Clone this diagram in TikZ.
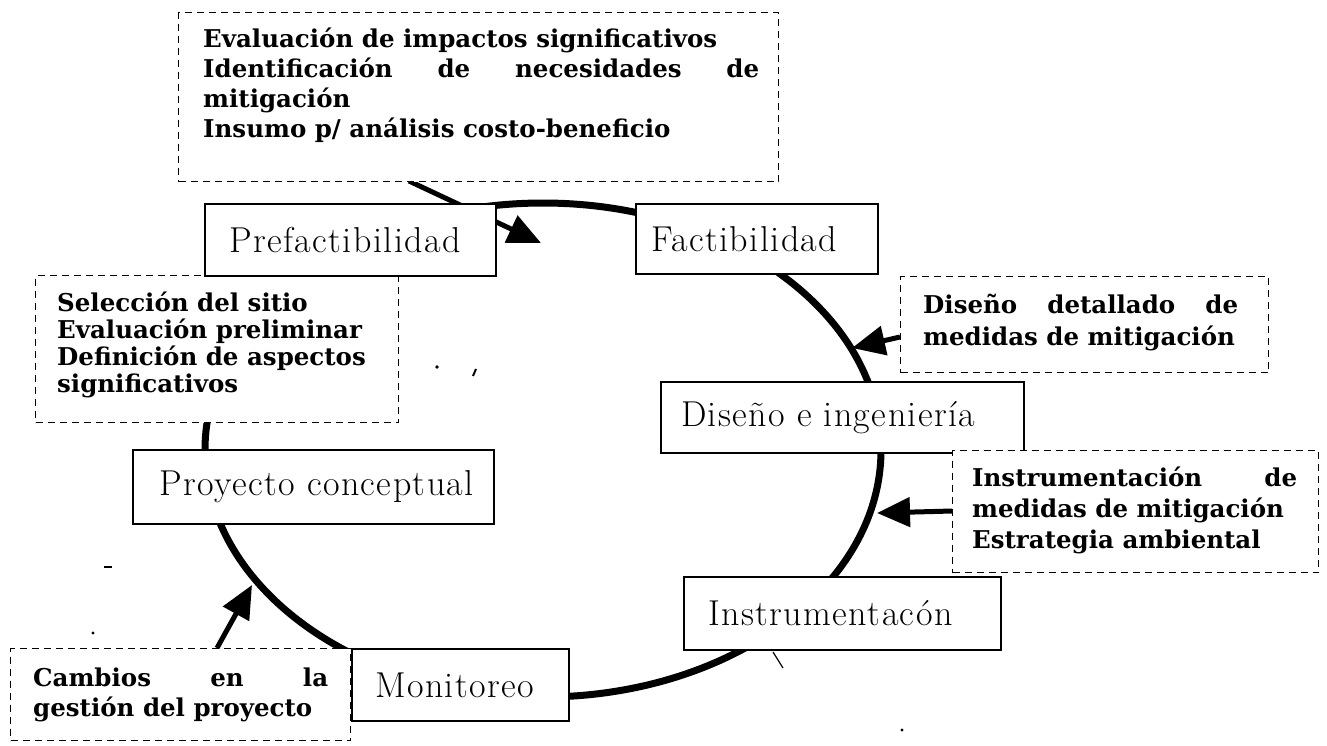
\documentclass[tikz,border=0pt]{standalone}
\usepackage{fontspec}
\newfontfamily\dejaserif{DejaVu Serif}
\newfontfamily\lightserif{Latin Modern Roman}[LetterSpace=4]
\usetikzlibrary{arrows.meta}
\tikzset{
  solidbox/.style={draw=black, line width=2pt, fill=white, inner ysep=0pt, anchor=north west,
    align=left, font=\lightserif\fontsize{36}{42}\selectfont},
  dashbox/.style={draw=black, line width=1.3pt, dash pattern=on 7pt off 5pt, fill=white,
    inner sep=0pt, anchor=north west},
  btxt/.style={font=\dejaserif\bfseries\fontsize{24.5}{#1}\selectfont, inner sep=0pt, anchor=base west},
  ring/.style={line width=7pt},
  arr/.style={line width=5pt, -{Triangle[length=33pt,width=29pt]}},
  speck/.style={fill=black}
}
\begin{document}
\begin{tikzpicture}[x=1pt,y=-1pt]
\useasboundingbox (0,0) rectangle (1327,745);
% cycle
\draw[ring] (543,450) ellipse [x radius=338pt, y radius=247pt];
% arrow tips on the cycle and tails on boxes
\coordinate (a1s) at (409,181);  \coordinate (a1e) at (541,243);
\coordinate (a2s) at (900,337);  \coordinate (a2e) at (852,348);
\coordinate (a3s) at (952,511);  \coordinate (a3e) at (877,513);
\coordinate (a4s) at (217,648);  \coordinate (a4e) at (252,585);
\draw[arr] (a1s) -- (a1e);
\draw[arr] (a2s) -- (a2e);
\draw[arr] (a3s) -- (a3e);
\draw[arr] (a4s) -- (a4e);
% small marks
\coordinate (m1s) at (773,652); \coordinate (m1e) at (783,668);
\draw[line width=1.2pt] (m1s) -- (m1e);
\fill[speck] (437,367) circle[radius=1.8pt];
\draw[line width=2pt] (476,369) -- (473,376);
\draw[line width=1.5pt] (104,567) -- (112,567);
\fill[speck] (93,633) circle[radius=1.6pt];
\fill[speck] (902,730) circle[radius=1.6pt];
% dashed boxes
\node[dashbox, minimum width=600pt, minimum height=169pt] (T) at (178,12) {};
\node[dashbox, minimum width=363pt, minimum height=147pt] (S) at (35,275) {};
\node[dashbox, minimum width=368pt, minimum height=96pt] (DD) at (900,276) {};
\node[dashbox, minimum width=340pt, minimum height=92pt] (C) at (10,648) {};
% solid boxes
\node[solidbox, minimum height=72pt, inner xsep=24pt, text width=243pt] (P) at (204,203) {\mbox{Prefactibilidad}};
\node[solidbox, minimum height=70pt, inner xsep=15pt, text width=212pt] (F) at (635,203) {\mbox{Factibilidad}};
\node[solidbox, minimum height=71pt, inner xsep=20pt, text width=323pt] (D) at (660,381) {\mbox{Diseño e ingeniería}};
\node[dashbox, minimum width=366pt, minimum height=122pt] (I) at (952,450) {};
\node[solidbox, minimum height=73pt, inner xsep=24pt, text width=269pt] (N) at (683,576) {\mbox{Instrumentacón}};
\node[solidbox, minimum height=74pt, inner xsep=26pt, text width=309pt] (PC) at (132,449) {\mbox{Proyecto conceptual}};
\node[solidbox, minimum height=72pt, inner xsep=23pt, text width=171pt] (M) at (351,648) {\mbox{Monitoreo}};
% texts of the dashed boxes
\node[btxt=30] (Tt) at (203,47) {\parbox[t]{560pt}{Evaluación de impactos significativos\\
  \makebox[556pt][s]{Identificación de necesidades de}\\
  mitigación\\
  Insumo p/ análisis costo-beneficio}};
\node[btxt=27] (St) at (57,311) {\parbox[t]{340pt}{Selección del sitio\\
  Evaluación preliminar\\
  Definición de aspectos\\
  significativos}};
\node[btxt=32] (DDt) at (923,313) {\parbox[t]{335pt}{\makebox[315pt][s]{Diseño detallado de}\\
  medidas de mitigación}};
\node[btxt=31] (It) at (972,486) {\parbox[t]{340pt}{\makebox[325pt][s]{Instrumentación de}\\
  medidas de mitigación\\
  Estrategia ambiental}};
\node[btxt=30] (Ct) at (33,686) {\parbox[t]{315pt}{\makebox[295pt][s]{Cambios en la}\\
  gestión del proyecto}};
\end{tikzpicture}
\end{document}
